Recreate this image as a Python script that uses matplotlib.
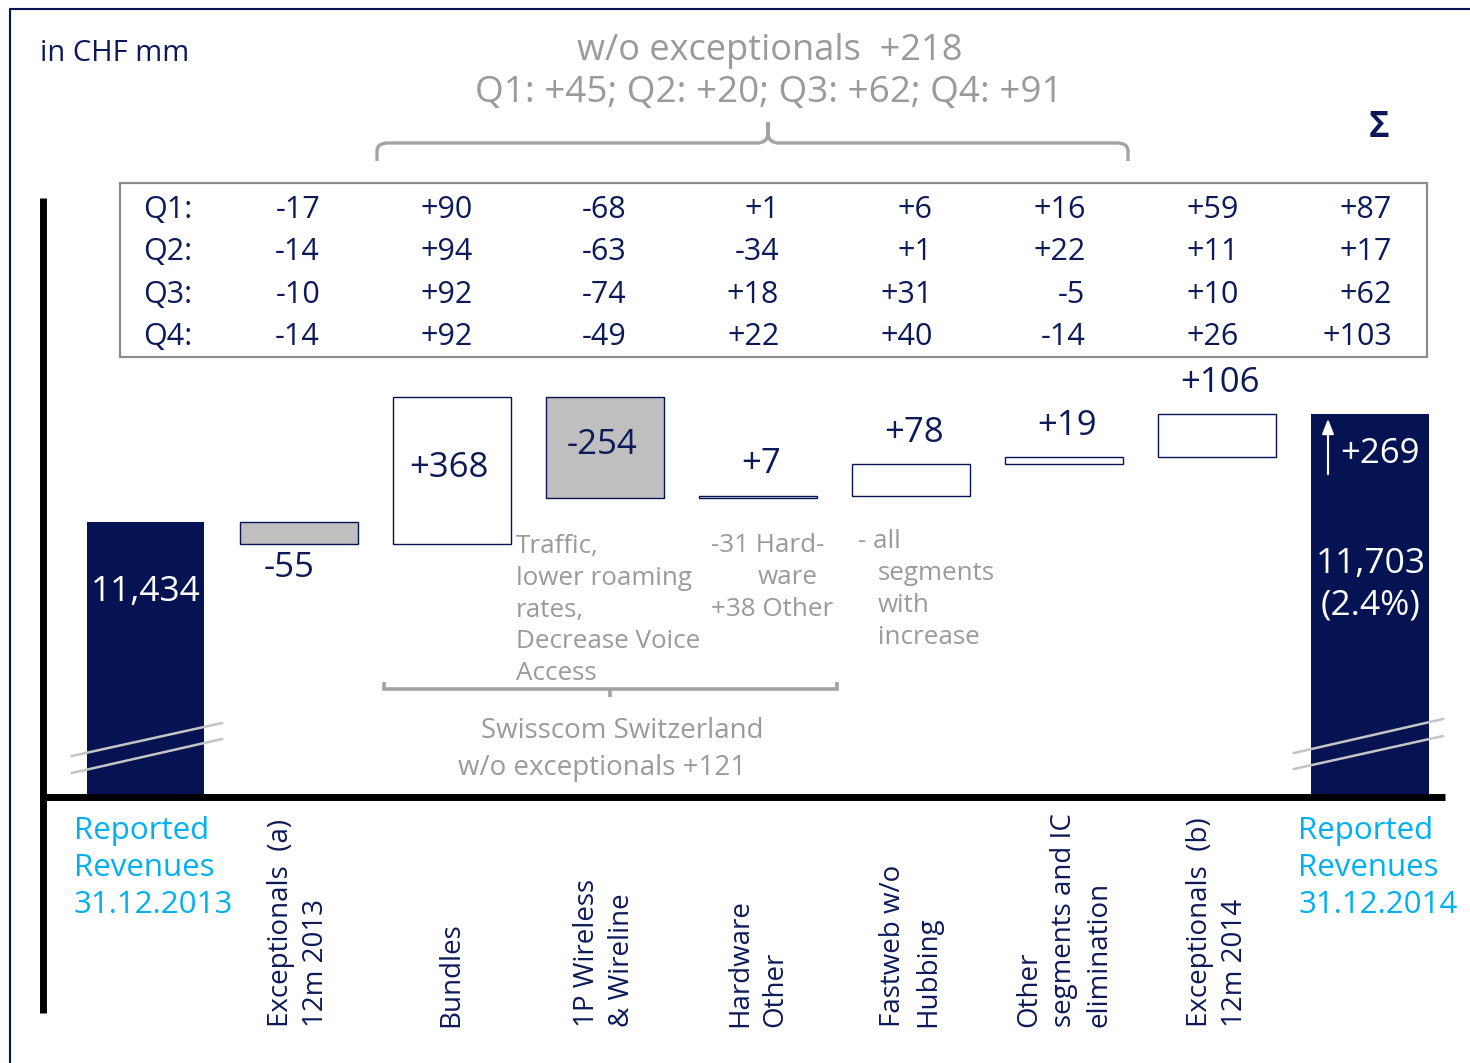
import numpy as np
import matplotlib.pyplot as plt
from matplotlib.path import Path
from matplotlib.patches import PathPatch, Rectangle
from matplotlib.transforms import Affine2D, blended_transform_factory

plt.rcParams['font.family'] = ['Open Sans', 'DejaVu Sans']

# ---- data (CHF mm) ----
start_value = 11434
end_value = 11703
step_names = ['Exceptionals  (a)\n12m 2013', 'Bundles', '1P Wireless\n& Wireline',
              'Hardware\nOther', 'Fastweb w/o\nHubbing',
              'Other\nsegments and IC\nelimination', 'Exceptionals  (b)\n12m 2014']
step_values = [-55, 368, -254, 7, 78, 19, 106]
start_label = 'Reported\nRevenues\n31.12.2013'
end_label = 'Reported\nRevenues\n31.12.2014'

quarters = ['Q1:', 'Q2:', 'Q3:', 'Q4:']
q1 = [-17, 90, -68, 1, 6, 16, 59, 87]
q2 = [-14, 94, -63, -34, 1, 22, 11, 17]
q3 = [-10, 92, -74, 18, 31, -5, 10, 62]
q4 = [-14, 92, -49, 22, 40, -14, 26, 103]
quarter_rows = [q1, q2, q3, q4]

NAVY = '#061352'
TEXT = '#0C1A5A'
GREY_BAR = '#BFBFBF'
GREY_TXT = '#9A9A9A'
GREY_LINE = '#A3A3A3'
CYAN = '#00B0F0'

W, H = 1470, 1063
fig = plt.figure(figsize=(W / 100, H / 100), dpi=100)
ax = fig.add_axes([0, 0, 1, 1])
ax.set_xlim(-0.9504, 8.651)
ax.set_ylim(10081.5, 12739)
ax.axis('off')

# pixel coordinates (origin top-left) and blended (x = category, y = pixel)
px = Affine2D().scale(1 / W, -1 / H).translate(0, 1) + fig.transFigure
cat_px = blended_transform_factory(ax.transData, px)

# ---- frame ----
ax.plot([10.5, 10.5, W], [H, 8.5, 8.5], transform=px, color=NAVY, lw=1.5, clip_on=False)

# ---- waterfall ----
n = len(step_values)
floor = 10747          # broken axis floor
bar_w = 0.77
cum = start_value + np.concatenate([[0], np.cumsum(step_values)])

ax.bar(0, start_value - floor, bottom=floor, width=bar_w, color=NAVY)
ax.bar(n + 1, end_value - floor, bottom=floor, width=bar_w, color=NAVY)
for i, v in enumerate(step_values):
    ax.bar(i + 1, v, bottom=cum[i], width=bar_w,
           color=GREY_BAR if v < 0 else 'white', edgecolor=NAVY, linewidth=1.0)

# value labels
for i, v in enumerate(step_values):
    x = i + 1
    lab = f'{v:+d}'
    top, bot = max(cum[i], cum[i + 1]), min(cum[i], cum[i + 1])
    if abs(v) > 150:
        ax.annotate(lab, (x, (top + bot) / 2), xytext=(-2, 2), textcoords='offset points',
                    ha='center', va='center', fontsize=25, color=TEXT)
    elif v < 0:
        ax.annotate(lab, (x, bot), xytext=(-7, -24), textcoords='offset points',
                    ha='center', va='baseline', fontsize=25, color=TEXT)
    else:
        ax.annotate(lab, (x, top), xytext=(2, 16), textcoords='offset points',
                    ha='center', va='baseline', fontsize=25, color=TEXT)

ax.text(0, 601, f'{start_value:,}', transform=cat_px, ha='center', va='baseline',
        fontsize=25.5, color='white')
pct = (end_value - start_value) / start_value * 100
ax.text(n + 1, 573, f'{end_value:,}', transform=cat_px, ha='center', va='baseline',
        fontsize=25.5, color='white')
ax.text(n + 1, 615, f'({pct:.1f}%)', transform=cat_px, ha='center', va='baseline',
        fontsize=25.5, color='white')
ax.text(1340, 463, f'{end_value - start_value:+d}', transform=px, ha='left',
        va='baseline', fontsize=25, color='white')
ax.annotate('', xy=(1328, 416), xycoords=px, xytext=(1328, 477), textcoords=px,
            arrowprops=dict(arrowstyle='-|>,head_length=0.9,head_width=0.35',
                            color='white', lw=1.5))

# axis break marks
for x0, x1, ys in [(72, 222, [(756, 723), (773, 739)]),
                   (1294, 1443, [(753, 719), (769, 736)])]:
    for ya, yb in ys:
        ax.plot([x0, x1], [ya, yb], transform=px, color='#C4C4C4', lw=1.8)

# axes lines
ax.plot([43.5, 43.5], [198, 1013], transform=px, color='black', lw=5, solid_capstyle='butt')
ax.plot([40, 1445], [796.5, 796.5], transform=px, color='black', lw=5, solid_capstyle='butt')

# ---- quarterly table ----
ax.add_patch(Rectangle((120, 183), 1307, 174, transform=px, fill=False,
                       edgecolor='#8C8C8C', lw=1.6))
for r, (qname, row) in enumerate(zip(quarters, quarter_rows)):
    yb = 218 + 42.3 * r
    ax.text(143, yb, qname, transform=px, ha='left', va='baseline', fontsize=22, color=TEXT)
    for j, v in enumerate(row):
        ax.text(j + 1 + 0.14, yb, f'{v:+d}', transform=cat_px, ha='right',
                va='baseline', fontsize=22, color=TEXT)

# ---- header texts ----
ax.text(40, 61, 'in CHF mm', transform=px, ha='left', va='baseline', fontsize=21, color=TEXT)
ax.text(1379, 137, '\u03a3', transform=px, ha='center', va='baseline', fontsize=25,
        fontweight='bold', color=TEXT)

wo_exc = [sum(row[1:6]) for row in quarter_rows]
ax.text(770, 60, f'w/o exceptionals  {sum(step_values[1:6]):+d}', transform=px,
        ha='center', va='baseline', fontsize=26, color=GREY_TXT)
ax.text(769, 102, '; '.join(f'Q{k + 1}: {v:+d}' for k, v in enumerate(wo_exc)),
        transform=px, ha='center', va='baseline', fontsize=26.6, color=GREY_TXT)

brace = Path([(377, 161), (377, 151), (377, 143), (388, 143), (757, 143),
              (768, 143), (768, 133), (768, 122), (768, 133), (768, 143), (779, 143),
              (1117, 143), (1128, 143), (1128, 151), (1128, 161)],
             [Path.MOVETO, Path.LINETO, Path.CURVE3, Path.CURVE3, Path.LINETO,
              Path.CURVE3, Path.CURVE3, Path.LINETO, Path.LINETO, Path.CURVE3, Path.CURVE3,
              Path.LINETO, Path.CURVE3, Path.CURVE3, Path.LINETO])
ax.add_patch(PathPatch(brace, transform=px, fill=False, edgecolor=GREY_LINE, lw=2.4))

# ---- grey annotations ----
notes = [
    (516, ['Traffic,', 'lower roaming', 'rates,', 'Decrease Voice', 'Access'], 553, 31.8),
    (711, ['-31 Hard-', '', '+38 Other'], 552, 32),
    (858, ['- all'], 548, 32),
    (878, ['', 'segments', 'with', 'increase'], 548, 32),
]
for x, lines, y0, dy in notes:
    for k, line in enumerate(lines):
        ax.text(x, y0 + k * dy, line, transform=px, ha='left', va='baseline',
                fontsize=18.7, color=GREY_TXT)
ax.text(758, 584, 'ware', transform=px, ha='left', va='baseline', fontsize=18.7, color=GREY_TXT)

bracket = Path([(384, 682), (384, 689), (837, 689), (837, 682), (610, 689), (610, 697)],
               [Path.MOVETO, Path.LINETO, Path.LINETO, Path.LINETO, Path.MOVETO, Path.LINETO])
ax.add_patch(PathPatch(bracket, transform=px, fill=False, edgecolor=GREY_LINE, lw=2.6))
ax.text(622, 738, 'Swisscom Switzerland', transform=px, ha='center', va='baseline',
        fontsize=20, color=GREY_TXT)
ax.text(602, 775, f'w/o exceptionals {sum(step_values[1:4]):+d}', transform=px,
        ha='center', va='baseline', fontsize=20, color=GREY_TXT)

# ---- category labels ----
for i, name in enumerate(step_names):
    ax.text(i + 1, 1027, name, transform=cat_px, rotation=90, ha='center', va='bottom',
            multialignment='left', fontsize=20, color=TEXT, linespacing=1.35)

for x, lab in [(0, start_label), (n + 1, end_label)]:
    for k, line in enumerate(lab.split('\n')):
        ax.text(x - 0.47, 839 + 37 * k, line, transform=cat_px, ha='left', va='baseline',
                fontsize=22.5, color=CYAN)

fig.savefig('out.png', dpi=100)
